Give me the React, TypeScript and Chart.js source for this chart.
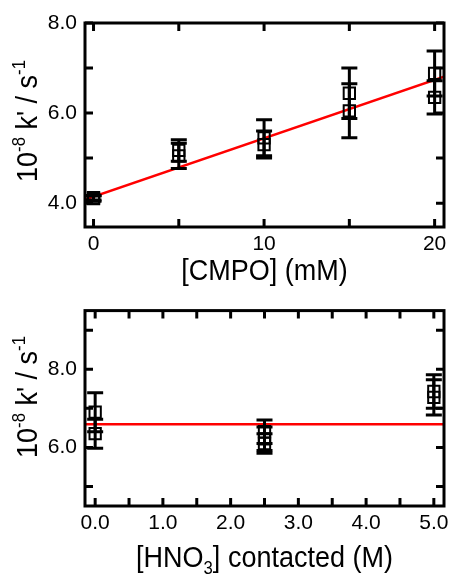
import React, { useEffect, useRef } from 'react';
import { Chart, registerables } from 'chart.js';
Chart.register(...registerables);

// ---------- Data: top panel (k' vs [CMPO]) ----------
const cmpoConc = [0, 0, 5, 5, 10, 10, 15, 15, 20, 20];
const cmpoRate = [4.1, 4.12, 5.17, 5.05, 5.45, 5.3, 6.44, 6.05, 6.88, 6.35];
const cmpoErr = [0.06, 0.05, 0.24, 0.28, 0.4, 0.3, 0.56, 0.6, 0.5, 0.37];
const cmpoFitX = [-0.5, 20.55];
const cmpoFitY = [4.08, 6.81];
const cmpoXTicks = [0, 5, 10, 15, 20];
const cmpoXLabels = [0, 10, 20];
const cmpoYTicks = [4, 5, 6, 7, 8];
const cmpoYLabels = [4, 6, 8];

// ---------- Data: bottom panel (k' vs [HNO3] contacted) ----------
const hno3Conc = [0, 0, 2.5, 2.5, 2.5, 5, 5];
const hno3Rate = [6.9, 6.35, 6.4, 6.22, 6.1, 7.43, 7.28];
const hno3Err = [0.5, 0.37, 0.3, 0.3, 0.25, 0.43, 0.45];
const hno3FitX = [-0.15, 5.15];
const hno3FitY = [6.59, 6.59];
const hno3XTicks = [0, 0.5, 1, 1.5, 2, 2.5, 3, 3.5, 4, 4.5, 5];
const hno3XLabels = [0, 1, 2, 3, 4, 5];
const hno3YTicks = [5, 6, 7, 8, 9];
const hno3YLabels = [6, 8];

const FONT = "'Liberation Sans', Arial, Helvetica, sans-serif";

type Seg = { t: string; s?: 'sup' | 'sub' };

const yTitle: Seg[] = [
  { t: '10' },
  { t: '-8', s: 'sup' },
  { t: " k' / s" },
  { t: '-1', s: 'sup' },
];
const cmpoXTitle: Seg[] = [{ t: '[CMPO] (mM)' }];
const hno3XTitle: Seg[] = [{ t: '[HNO' }, { t: '3', s: 'sub' }, { t: '] contacted (M)' }];

function segSize(seg: Seg, size: number) {
  return seg.s ? size * 0.62 : size;
}

function drawRich(ctx: CanvasRenderingContext2D, segs: Seg[], size: number, stretch: number) {
  let total = 0;
  for (const s of segs) {
    ctx.font = `${segSize(s, size)}px ${FONT}`;
    total += ctx.measureText(s.t).width;
  }
  let x = -total / 2;
  ctx.scale(1, stretch);
  ctx.textAlign = 'left';
  ctx.textBaseline = 'alphabetic';
  ctx.fillStyle = '#000';
  for (const s of segs) {
    ctx.font = `${segSize(s, size)}px ${FONT}`;
    const dy = s.s === 'sup' ? -size * 0.4 : s.s === 'sub' ? size * 0.22 : 0;
    ctx.fillText(s.t, x, dy);
    x += ctx.measureText(s.t).width;
  }
}

type PanelCfg = {
  xs: number[];
  ys: number[];
  errs: number[];
  fitX: number[];
  fitY: number[];
  xMin: number;
  xMax: number;
  yMin: number;
  yMax: number;
  xTicks: number[];
  xLabels: number[];
  xDigits: number;
  yTicks: number[];
  yLabels: number[];
  padTop: number;
  padRight: number;
  yWidth: number;
  xHeight: number;
  xTitle: Seg[];
  xTitleBaseline: number;
  yTitleBaseline: number;
  yTitleCenter: number;
};

function makeChart(canvas: HTMLCanvasElement, p: PanelCfg) {
  const panelPlugin = {
    id: 'panelDecor',
    afterDatasetsDraw(chart: any) {
      const ctx: CanvasRenderingContext2D = chart.ctx;
      const xs = chart.scales.x;
      const ys = chart.scales.y;
      const a = chart.chartArea;
      ctx.save();
      // error bars
      ctx.strokeStyle = '#000';
      ctx.lineWidth = 3;
      const cap = 8;
      for (let i = 0; i < p.xs.length; i++) {
        const px = xs.getPixelForValue(p.xs[i]);
        const top = ys.getPixelForValue(p.ys[i] + p.errs[i]);
        const bot = ys.getPixelForValue(p.ys[i] - p.errs[i]);
        ctx.beginPath();
        ctx.moveTo(px, top);
        ctx.lineTo(px, bot);
        ctx.moveTo(px - cap, top);
        ctx.lineTo(px + cap, top);
        ctx.moveTo(px - cap, bot);
        ctx.lineTo(px + cap, bot);
        ctx.stroke();
      }
      // frame
      ctx.lineWidth = 3;
      ctx.strokeRect(a.left, a.top, a.right - a.left, a.bottom - a.top);
      // inward ticks on all four sides
      const tl = 8;
      ctx.beginPath();
      for (const v of p.xTicks) {
        const px = xs.getPixelForValue(v);
        ctx.moveTo(px, a.bottom);
        ctx.lineTo(px, a.bottom - tl);
        ctx.moveTo(px, a.top);
        ctx.lineTo(px, a.top + tl);
      }
      for (const v of p.yTicks) {
        const py = ys.getPixelForValue(v);
        ctx.moveTo(a.left, py);
        ctx.lineTo(a.left + tl, py);
        ctx.moveTo(a.right, py);
        ctx.lineTo(a.right - tl, py);
      }
      ctx.stroke();
      // axis titles
      ctx.save();
      ctx.translate((a.left + a.right) / 2, p.xTitleBaseline);
      drawRich(ctx, p.xTitle, 27, 1.1);
      ctx.restore();
      ctx.save();
      ctx.translate(p.yTitleBaseline, p.yTitleCenter);
      ctx.rotate(-Math.PI / 2);
      drawRich(ctx, yTitle, 27, 1.12);
      ctx.restore();
      ctx.restore();
    },
  };

  const tickFont = { family: FONT, size: 21 };

  return new Chart(canvas, {
    type: 'scatter',
    data: {
      datasets: [
        {
          data: p.xs.map((x, i) => ({ x, y: p.ys[i] })),
          pointStyle: 'rect',
          pointRadius: 8,
          pointBorderWidth: 2,
          pointBorderColor: '#000',
          pointBackgroundColor: 'rgba(0,0,0,0)',
          showLine: false,
        },
        {
          data: p.fitX.map((x, i) => ({ x, y: p.fitY[i] })),
          showLine: true,
          borderColor: '#ff0000',
          borderWidth: 2.5,
          pointRadius: 0,
        },
      ],
    } as any,
    options: {
      responsive: false,
      animation: false,
      events: [],
      layout: { padding: { top: p.padTop, right: p.padRight, left: 0, bottom: 0 } },
      plugins: { legend: { display: false }, tooltip: { enabled: false } },
      scales: {
        x: {
          type: 'linear',
          min: p.xMin,
          max: p.xMax,
          afterBuildTicks: (s: any) => {
            s.ticks = p.xTicks.map((v) => ({ value: v }));
          },
          afterFit: (s: any) => {
            s.height = p.xHeight;
          },
          grid: { display: false, drawTicks: false },
          border: { display: false },
          ticks: {
            font: tickFont,
            color: '#000',
            padding: 5,
            autoSkip: false,
            maxRotation: 0,
            callback: (v: any) => (p.xLabels.includes(Number(v)) ? Number(v).toFixed(p.xDigits) : ''),
          },
        },
        y: {
          type: 'linear',
          min: p.yMin,
          max: p.yMax,
          afterBuildTicks: (s: any) => {
            s.ticks = p.yTicks.map((v) => ({ value: v }));
          },
          afterFit: (s: any) => {
            s.width = p.yWidth;
          },
          grid: { display: false, drawTicks: false },
          border: { display: false },
          ticks: {
            font: tickFont,
            color: '#000',
            padding: 8,
            autoSkip: false,
            callback: (v: any) => (p.yLabels.includes(Number(v)) ? Number(v).toFixed(1) : ''),
          },
        },
      },
    } as any,
    plugins: [panelPlugin],
  });
}

export default function App() {
  const topRef = useRef<HTMLCanvasElement>(null);
  const botRef = useRef<HTMLCanvasElement>(null);

  useEffect(() => {
    const c1 = makeChart(topRef.current!, {
      xs: cmpoConc,
      ys: cmpoRate,
      errs: cmpoErr,
      fitX: cmpoFitX,
      fitY: cmpoFitY,
      xMin: -0.5,
      xMax: 20.55,
      yMin: 3.47,
      yMax: 8.0,
      xTicks: cmpoXTicks,
      xLabels: cmpoXLabels,
      xDigits: 0,
      yTicks: cmpoYTicks,
      yLabels: cmpoYLabels,
      padTop: 23,
      padRight: 4,
      yWidth: 85,
      xHeight: 63,
      xTitle: cmpoXTitle,
      xTitleBaseline: 280,
      yTitleBaseline: 37,
      yTitleCenter: 121,
    });
    const c2 = makeChart(botRef.current!, {
      xs: hno3Conc,
      ys: hno3Rate,
      errs: hno3Err,
      fitX: hno3FitX,
      fitY: hno3FitY,
      xMin: -0.15,
      xMax: 5.15,
      yMin: 4.5,
      yMax: 9.5,
      xTicks: hno3XTicks,
      xLabels: hno3XLabels,
      xDigits: 1,
      yTicks: hno3YTicks,
      yLabels: hno3YLabels,
      padTop: 13,
      padRight: 5,
      yWidth: 85,
      xHeight: 71,
      xTitle: hno3XTitle,
      xTitleBaseline: 277,
      yTitleBaseline: 37,
      yTitleCenter: 107,
    });
    return () => {
      c1.destroy();
      c2.destroy();
    };
  }, []);

  return (
    <div style={{ position: 'absolute', left: 0, top: 0, width: 454, height: 577, background: '#fff' }}>
      <canvas ref={topRef} width={454} height={290} style={{ position: 'absolute', left: 0, top: 0 }} />
      <canvas ref={botRef} width={454} height={287} style={{ position: 'absolute', left: 0, top: 290 }} />
    </div>
  );
}
